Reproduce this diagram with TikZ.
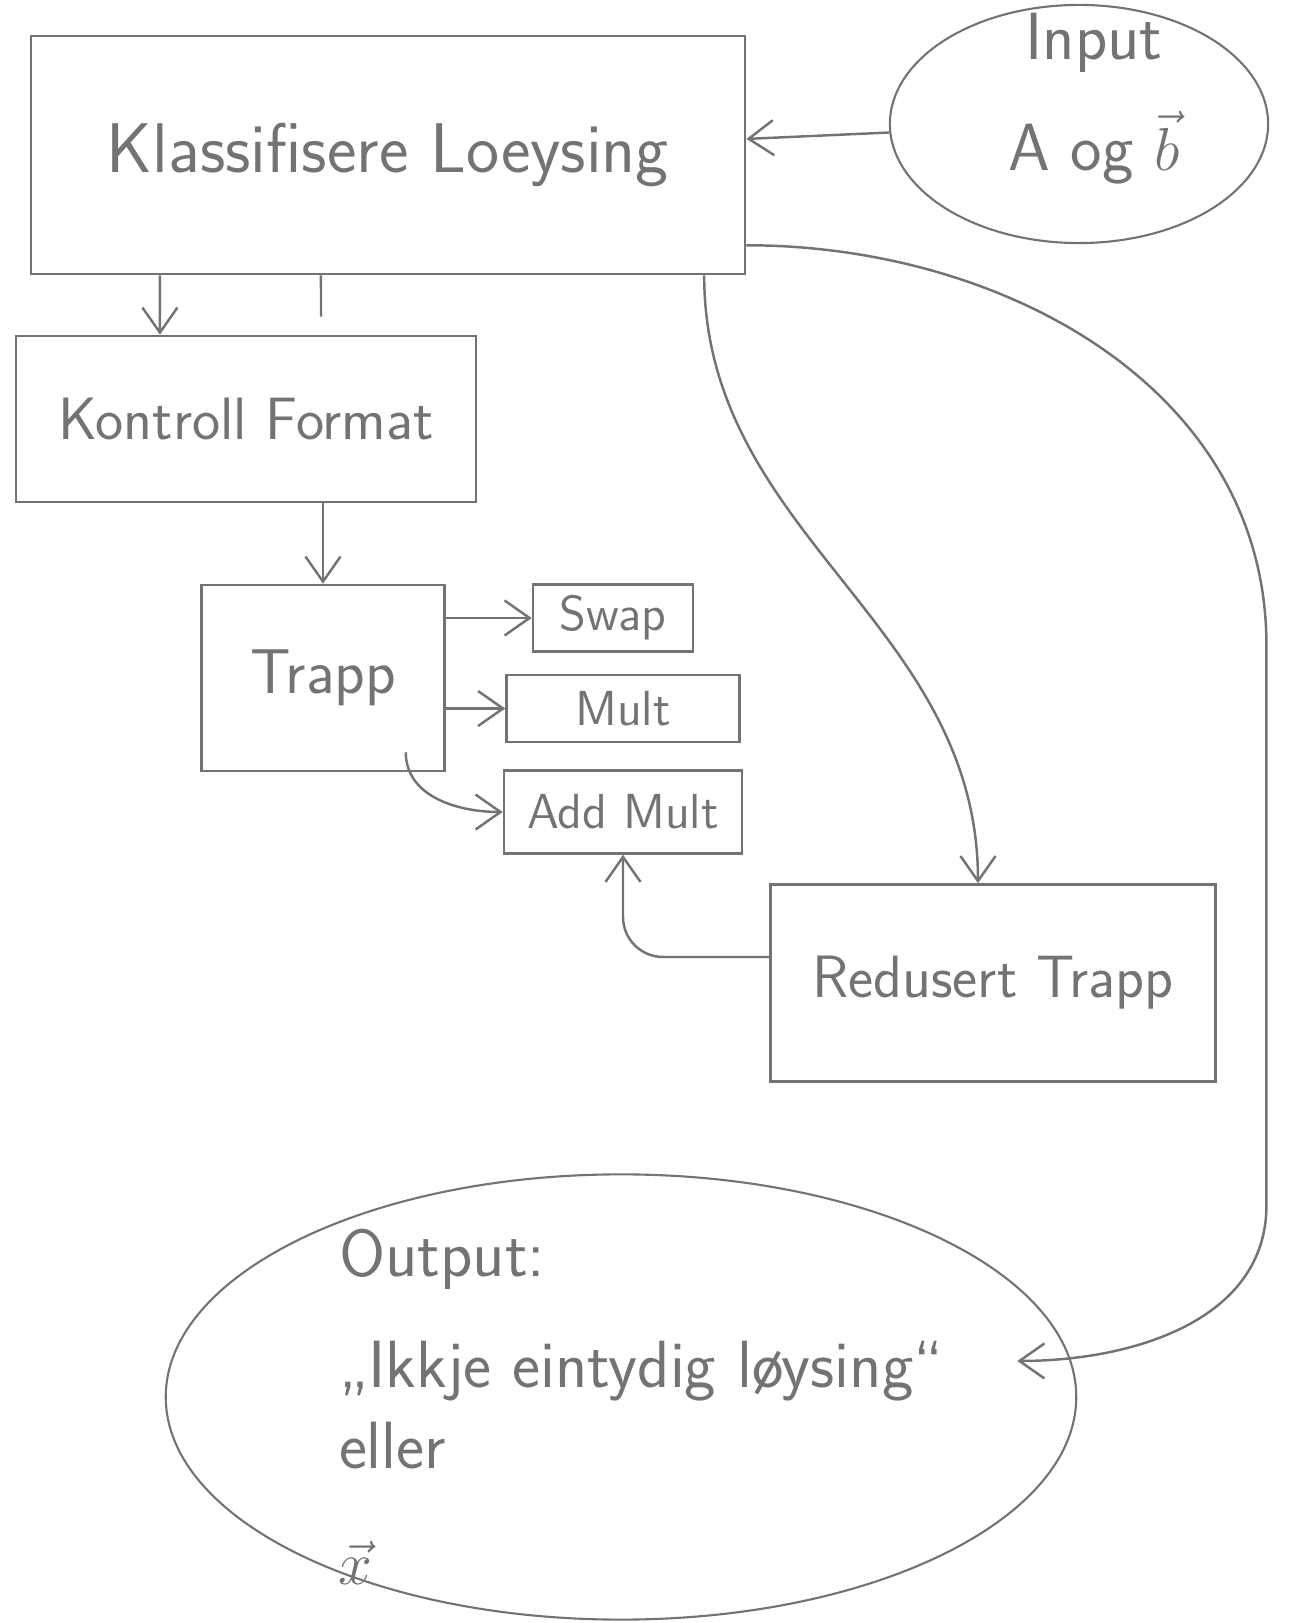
\documentclass[tikz,border=0pt]{standalone}
\usepackage{fontspec}
\usepackage{amsmath}
\usepackage{tikz}
\usetikzlibrary{positioning, arrows.meta, shapes.geometric}
\definecolor{pencil}{gray}{0.45}

\begin{document}
\begin{tikzpicture}[x=0.01cm, y=0.01cm]
	% Define styles
	\tikzset{
		plain/.style={draw=pencil, line width=0.7pt},
		block/.style={rectangle, plain, text=pencil, font=\sffamily\fontsize{17}{20}\selectfont, inner sep=2pt},
		small/.style={block, font=\sffamily\fontsize{14}{17}\selectfont, minimum height=0.67cm},
		blob/.style={ellipse, draw=pencil, line width=0.6pt, inner sep=0pt},
		blobtext/.style={text=pencil, align=left, font=\sffamily\fontsize{19}{23}\selectfont},
		line/.style={plain, -{Straight Barb[length=2.5mm, width=3.5mm]}}
	}
	\useasboundingbox (0,0) rectangle (1300,1623);
	
	% Nodes
	\node[block, minimum width=7.14cm, minimum height=2.38cm, font=\sffamily\fontsize{20}{24}\selectfont] (klass) at (388,1468) {Klassifisere Loeysing};
	\node[blob, minimum width=3.78cm, minimum height=2.38cm,
		label={[blobtext, align=center, xshift=0.15cm, yshift=0.25cm]center:{Input\\[0.3cm] A og $\vec{b}$}}] (inp) at (1079,1499) {};
	
	\node[block, minimum width=4.6cm, minimum height=1.66cm] (kontroll) at (246,1204) {Kontroll Format};
	\node[block, minimum width=2.43cm, minimum height=1.86cm, font=\sffamily\fontsize{18}{21}\selectfont] (trapp) at (323,945) {Trapp};
	
	\node[small, minimum width=1.6cm] (swap) at (613,1005) {Swap};
	\node[small, minimum width=2.33cm, below=0.21cm of swap, xshift=0.1cm] (mult) {Mult};
	\node[small, minimum width=2.38cm, minimum height=0.83cm, below=0.26cm of mult] (addmult) {Add Mult};
	
	\node[block, minimum width=4.45cm, minimum height=1.97cm] (redusert) at (993,640) {Redusert Trapp};
	
	\node[blob, minimum width=9.1cm, minimum height=4.45cm,
		label={[blobtext, xshift=0.2cm, yshift=-0.1cm]center:{Output:\\[0.3cm] „Ikkje eintydig løysing“\\ eller\\[0.35cm] $\vec{x}$}}] (output) at (621,226) {};
	
	% Arrows
	\draw[line] (inp) -- (klass);
	\draw[line] ([xshift=-2.28cm]klass.south) -- ([xshift=-0.86cm]kontroll.north);
	\draw[plain, shorten >=0.18cm] ([xshift=-0.67cm]klass.south) -- ([xshift=0.75cm]kontroll.north);
	\draw[line] (kontroll.south -| trapp.north) -- (trapp.north);
	
	\draw[line] (trapp.east |- swap.west) -- (swap.west);
	\draw[line] (trapp.east |- mult.west) -- (mult.west);
	\draw[line] ([xshift=-0.4cm, yshift=0.2cm]trapp.south east) to[out=-90, in=180] (addmult.west);
	
	\draw[line, rounded corners=0.4cm] ([yshift=0.26cm]redusert.west) -| (addmult.south);
	\draw[line] ([xshift=3.16cm]klass.south) to[out=-90, in=90] ([xshift=-0.15cm]redusert.north);
	\draw[line] ([yshift=0.3cm]klass.south east) to[out=0, in=90] ++(520,-400) -- ++(0,-560) to[out=-90, in=0] ([xshift=-0.6cm, yshift=0.36cm]output.east);
	
\end{tikzpicture}
\end{document}
